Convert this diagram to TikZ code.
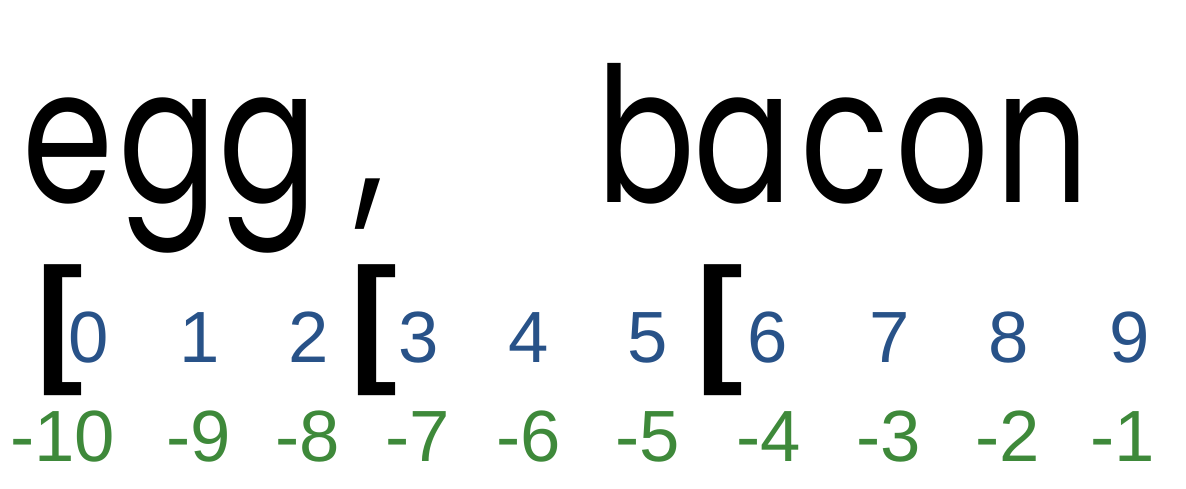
\documentclass[tikz,border=0pt]{standalone}
\usepackage{fontspec}
\setmainfont{Liberation Sans}
\newfontfamily\wordfont[FakeStretch=0.78]{Poppins}
\usetikzlibrary{positioning}
\definecolor{idxblue}{RGB}{40,82,136}
\definecolor{idxgreen}{RGB}{62,137,58}

\begin{document}
\begin{tikzpicture}[x=0.02cm, y=-0.02cm,
  letter/.style={inner sep=0, anchor=base, font=\wordfont\fontsize{107}{107}\selectfont},
  posidx/.style={inner sep=0, anchor=base, text=idxblue, font=\fontsize{41.3}{42}\selectfont},
  negidx/.style={inner sep=0, anchor=base, text=idxgreen, font=\fontsize{41.3}{42}\selectfont},
  brack/.style={inner sep=0, anchor=center, font=\bfseries\fontsize{80}{80}\selectfont}]
\useasboundingbox (0,0) rectangle (1186,488);

% the string
\foreach \ch/\x/\k in {e/68/0, g/168/1, g/268/2, {,}/370/3, b/646/5, a/743/6, c/845/7, o/942/8, n/1042/9}
  \node[letter] (ch\k) at (\x,202) {\ch};

% slice starts
\node[brack] (open0) at (60,330.5) {[};
\node[brack] (open3) at (374,330.5) {[};
\node[brack] (open6) at (720,330.5) {[};

% positive and negative indices
\foreach \x [count=\i from 0] in {88.5,200,309,418.5,529,648,768,890,1009,1129.5}
  \node[posidx] (p\i) at (\x,362) {\i};
\foreach \x [count=\i from 0] in {62.5,199,308,418,529,647.5,768.5,888.5,1008,1123}
  \node[negidx] (n\i) at (\x,461) {\pgfmathtruncatemacro\m{\i-10}\m};

\end{tikzpicture}
\end{document}
